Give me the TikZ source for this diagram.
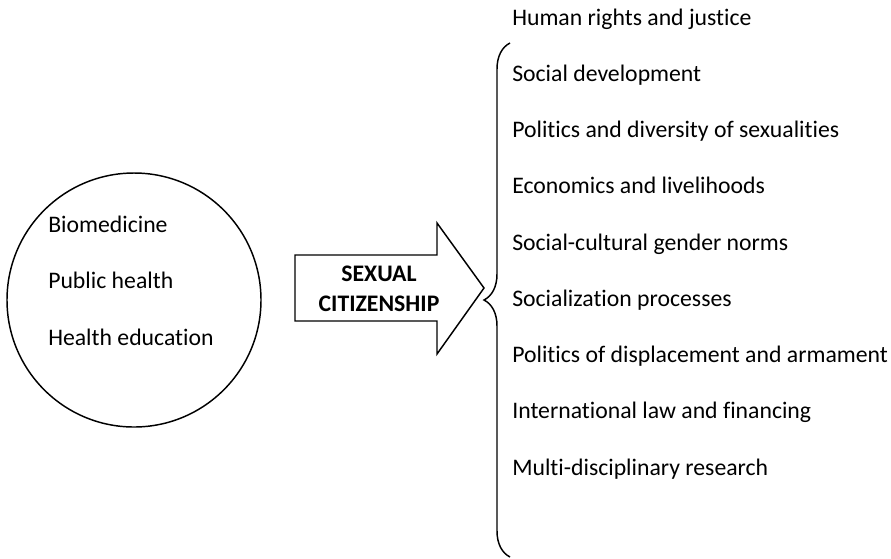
\documentclass[tikz,border=0pt]{standalone}
\usepackage{fontspec}
\setmainfont[RawFeature=-liga]{Carlito}
\usetikzlibrary{positioning,decorations.pathreplacing}

\begin{document}
\begin{tikzpicture}[
  x=0.75pt,y=-0.75pt,
  font=\fontsize{17.8}{21}\selectfont,
  itm/.style={anchor=base west,inner sep=0pt},
  ring/.style={draw,circle,line width=1.1pt,minimum size=190.5pt,inner sep=0pt},
  bigarr/.style={draw,line width=1.1pt,line join=miter},
  brc/.style={decorate,decoration={brace,amplitude=19.5pt},line width=1.1pt}
]
\useasboundingbox (0,0) rectangle (891,558);
% left circle with the three fields
\node[ring] (disc) at (134,300) {};
\node[itm] (bio) at (48,232) {Biomedicine};
\node[itm] (pub) at (48,288) {Public health};
\node[itm] (edu) at (48,345) {Health education};
% block arrow
\coordinate (t1) at (295,255); \coordinate (t2) at (437,255);
\coordinate (h1) at (437,223); \coordinate (tip) at (484,288);
\coordinate (h2) at (437,354); \coordinate (b2) at (437,321);
\coordinate (b1) at (295,321);
\draw[bigarr] (t1)--(t2)--(h1)--(tip)--(h2)--(b2)--(b1)--cycle;
\node[align=center,font=\fontsize{17.8}{22.5}\selectfont\bfseries] (sc) at (379,289) {SEXUAL\\CITIZENSHIP};
% brace and the list of domains
\coordinate (bt) at (510,43); \coordinate (bb) at (510,557);
\draw[brc] (bb)--(bt);
\foreach \t [count=\i from 0] in {Human rights and justice,Social development,
  Politics and diversity of sexualities,Economics and livelihoods,
  Social-cultural gender norms,Socialization processes,
  Politics of displacement and armament,International law and financing,
  Multi-disciplinary research}
  \node[itm] (d\i) at (512,25+56.25*\i) {\t};
\end{tikzpicture}
\end{document}
